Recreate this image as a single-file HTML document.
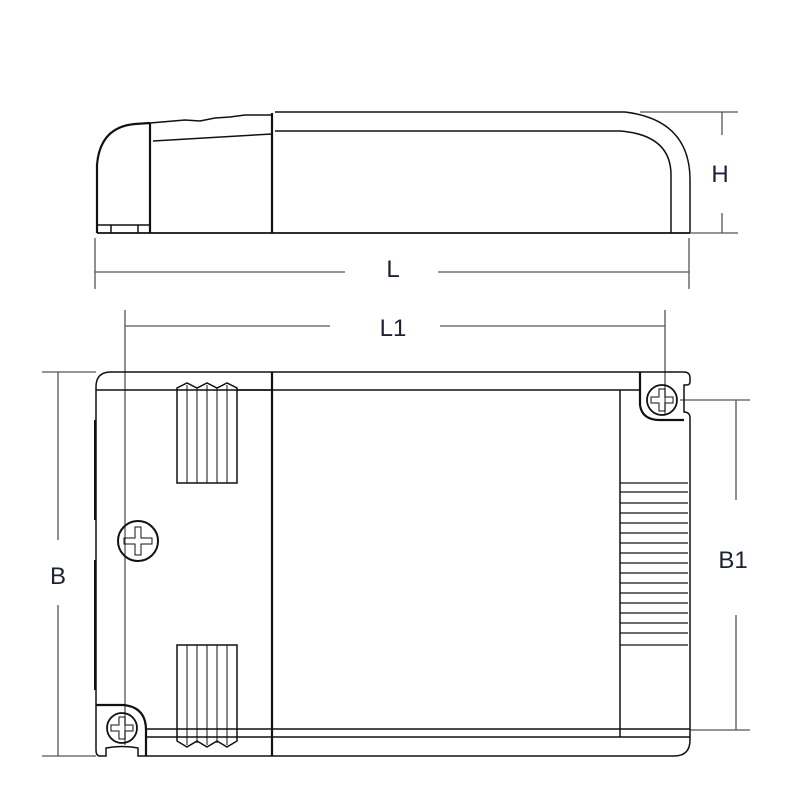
<!DOCTYPE html>
<html><head><style>html,body{margin:0;padding:0;background:#fff}svg{display:block}</style></head>
<body>
<svg width="800" height="800" viewBox="0 0 800 800" xmlns="http://www.w3.org/2000/svg" font-family="Liberation Sans Narrow, Liberation Sans, sans-serif">
<g fill="none" stroke="#111" stroke-width="1.5">
<path d="M97 233 V165 Q100 127 135 124 L150 123" stroke-width="2.2"/>
<line x1="150" y1="123" x2="150" y2="233" stroke-width="2.2"/>
<path d="M150 123 L185 120 L200 121 L215 118 L230 117 L245 115 L272 115"/>
<line x1="153" y1="141" x2="272" y2="134"/>
<line x1="272" y1="113" x2="272" y2="233" stroke-width="2.2"/>
<path d="M275 112 H625 Q690 120 690 180 V233"/>
<path d="M275 131 H620 Q671 135 671 175 V233"/>
<line x1="97" y1="233" x2="690" y2="233" stroke-width="1.8"/>
<line x1="97" y1="225" x2="150" y2="225"/>
<line x1="111" y1="225" x2="111" y2="233"/>
<line x1="138" y1="225" x2="138" y2="233"/>
<g stroke="#555" stroke-width="1.3">
<line x1="640" y1="112" x2="738" y2="112"/>
<line x1="690" y1="233" x2="738" y2="233"/>
<line x1="722" y1="112" x2="722" y2="135"/>
<line x1="722" y1="213" x2="722" y2="233"/>
<line x1="95" y1="238" x2="95" y2="289"/>
<line x1="689" y1="238" x2="689" y2="289"/>
<line x1="95" y1="272" x2="345" y2="272"/>
<line x1="438" y1="272" x2="689" y2="272"/>
<line x1="125" y1="310" x2="125" y2="745"/>
<line x1="665" y1="310" x2="665" y2="415"/>
<line x1="125" y1="326" x2="330" y2="326"/>
<line x1="440" y1="326" x2="665" y2="326"/>
<line x1="42" y1="372" x2="96" y2="372"/>
<line x1="42" y1="756" x2="96" y2="756"/>
<line x1="58" y1="372" x2="58" y2="540"/>
<line x1="58" y1="605" x2="58" y2="756"/>
<line x1="680" y1="400" x2="750" y2="400"/>
<line x1="690" y1="730" x2="750" y2="730"/>
<line x1="736" y1="400" x2="736" y2="500"/>
<line x1="736" y1="615" x2="736" y2="730"/>
</g>
<path d="M96 705 V387 Q96 372 111 372 H640"/>
<path d="M640 372 H684 Q690 372 690 378 V382 Q690 385 686 385 H684 V412 Q690 412 690 418 V740 Q690 756 674 756 H146"/>
<path d="M640 372 V405 Q642 420 660 420 H684" stroke-width="2.2"/>
<line x1="96" y1="390" x2="640" y2="390"/>
<line x1="146" y1="729" x2="690" y2="729"/>
<line x1="146" y1="737" x2="690" y2="737"/>
<line x1="272" y1="372" x2="272" y2="756" stroke-width="2.2"/>
<line x1="620" y1="390" x2="620" y2="737"/>
<path d="M96 705 V750 Q96 756 100 756 H106 V748 Q122 745 138 748 V756 H146" />
<path d="M96 705 H123 Q146 707 146 730 V756" stroke-width="2.2"/>
<line x1="95" y1="420" x2="95" y2="520" stroke-width="2"/>
<line x1="95" y1="560" x2="95" y2="690" stroke-width="2"/>
<path d="M177 483 V388 L187 383 L197 388 L207 383 L217 388 L227 383 L237 388 V483 Z"/>
<path d="M177 645 V741 L187 747 L197 741 L207 747 L217 741 L227 747 L237 741 V645 Z"/>
<g stroke-width="1">
<line x1="187" y1="385" x2="187" y2="483"/><line x1="197" y1="388" x2="197" y2="483"/>
<line x1="207" y1="385" x2="207" y2="483"/><line x1="217" y1="388" x2="217" y2="483"/>
<line x1="227" y1="385" x2="227" y2="483"/>
<line x1="187" y1="645" x2="187" y2="745"/><line x1="197" y1="645" x2="197" y2="743"/>
<line x1="207" y1="645" x2="207" y2="745"/><line x1="217" y1="645" x2="217" y2="743"/>
<line x1="227" y1="645" x2="227" y2="745"/>
</g>
<line x1="237" y1="390" x2="272" y2="390"/>
<g stroke-width="1.2">
<line x1="620" y1="483" x2="688" y2="483"/><line x1="620" y1="492" x2="688" y2="492"/>
<line x1="620" y1="503" x2="688" y2="503"/><line x1="620" y1="513" x2="688" y2="513"/>
<line x1="620" y1="523" x2="688" y2="523"/><line x1="620" y1="533" x2="688" y2="533"/>
<line x1="620" y1="543" x2="688" y2="543"/><line x1="620" y1="553" x2="688" y2="553"/>
<line x1="620" y1="563" x2="688" y2="563"/><line x1="620" y1="573" x2="688" y2="573"/>
<line x1="620" y1="583" x2="688" y2="583"/><line x1="620" y1="593" x2="688" y2="593"/>
<line x1="620" y1="603" x2="688" y2="603"/><line x1="620" y1="613" x2="688" y2="613"/>
<line x1="620" y1="623" x2="688" y2="623"/><line x1="620" y1="633" x2="688" y2="633"/>
<line x1="620" y1="645" x2="688" y2="645"/>
</g>
<circle cx="138" cy="541" r="20" stroke-width="2"/>
<path d="M135 527 H141 V538 H152 V544 H141 V555 H135 V544 H124 V538 H135 Z" stroke-width="1"/>
<circle cx="122" cy="728" r="15" stroke-width="1.8"/>
<path d="M119 717 H125 V725 H133 V731 H125 V739 H119 V731 H111 V725 H119 Z" stroke-width="1"/>
<circle cx="662" cy="400" r="15" stroke-width="1.8"/>
<path d="M659 389 H665 V397 H673 V403 H665 V411 H659 V403 H651 V397 H659 Z" stroke-width="1"/>
</g>
<g fill="#1a2233" font-size="24" text-anchor="middle">
<text x="720" y="182">H</text>
<text x="393" y="277">L</text>
<text x="393" y="336">L1</text>
<text x="58" y="584">B</text>
<text x="733" y="568">B1</text>
</g>
</svg>
</body></html>
